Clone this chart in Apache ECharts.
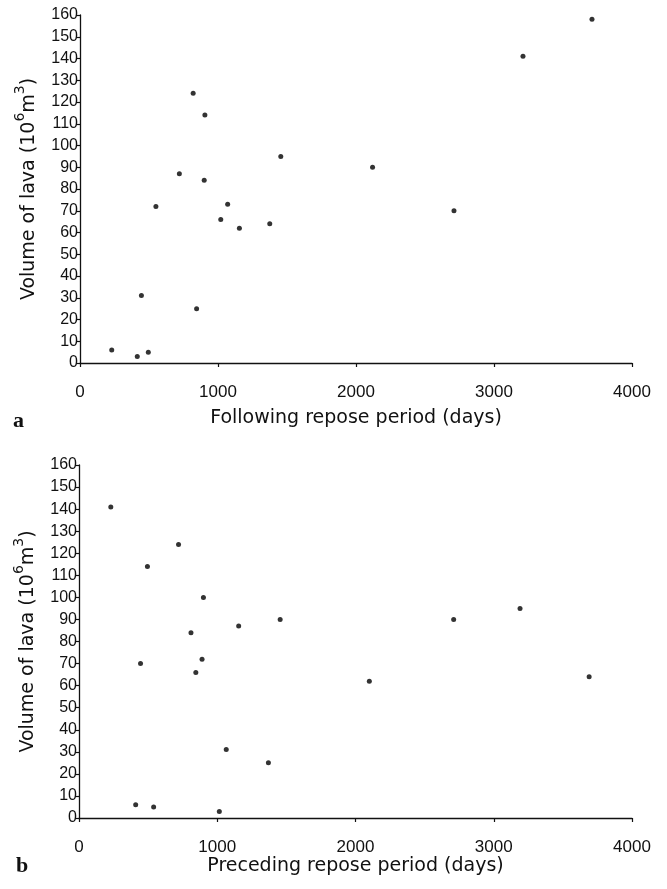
<!DOCTYPE html>
<html>
<head>
<meta charset="utf-8">
<script src="https://cdn.jsdelivr.net/npm/echarts@6/dist/echarts.min.js"></script>
<style>
  html, body { margin: 0; padding: 0; background: #fff; }
  #chart { width: 667px; height: 889px; }
</style>
</head>
<body>
<div id="chart"></div>
<script>
// Lava volume of each eruption against the repose period that follows it (a)
// and the repose period that precedes it (b).
const followingDays = [820, 905, 1455, 720, 900, 550, 1070, 1020, 1155, 1375,
                       445, 845, 230, 415, 495, 3710, 3210, 2120, 2710];
const followingVolume = [124, 114, 95, 87, 84, 72, 73, 66, 62, 64,
                         31, 25, 6, 3, 5, 158, 141, 90, 70];

const precedingDays = [230, 720, 495, 900, 1455, 1155, 810, 890, 445, 845,
                       1065, 1370, 410, 540, 1015, 3190, 2710, 2100, 3690];
const precedingVolume = [141, 124, 114, 100, 90, 87, 84, 72, 70, 66,
                         31, 25, 6, 5, 3, 95, 90, 62, 64];

const xTicks = { min: 0, max: 4000, interval: 1000 };
const yTicks = { min: 0, max: 160, interval: 10 };

const xTitleA = 'Following repose period (days)';
const xTitleB = 'Preceding repose period (days)';
const yTitle = '{n|Volume of lava (10}{s|6}{n|m}{s|3}{n|)}';

function pairs(xs, ys) { return xs.map((x, i) => [x, ys[i]]); }

const tickFont = 'Liberation Sans';
const titleFont = 'DejaVu Sans';

function xAxis(gridIndex, title, gap) {
  return {
    type: 'value', gridIndex, min: xTicks.min, max: xTicks.max, interval: xTicks.interval,
    name: title, nameLocation: 'middle', nameGap: gap,
    nameTextStyle: { fontFamily: titleFont, fontSize: 19, color: '#111' },
    axisLine: { show: true, lineStyle: { color: '#111', width: 1.3 } },
    axisTick: { show: true, inside: false, length: 4, lineStyle: { color: '#111', width: 1.2 } },
    axisLabel: { margin: 21, fontFamily: tickFont, fontSize: 17, color: '#111',
                 formatter: v => String(v) },
    splitLine: { show: false }
  };
}

function yAxis(gridIndex) {
  return {
    type: 'value', gridIndex, min: yTicks.min, max: yTicks.max, interval: yTicks.interval,
    name: yTitle, nameLocation: 'middle', nameRotate: 90, nameGap: 41,
    nameTextStyle: {
      fontFamily: titleFont, fontSize: 19, color: '#111',
      rich: {
        n: { fontFamily: titleFont, fontSize: 19, color: '#111', lineHeight: 26, verticalAlign: 'bottom' },
        s: { fontFamily: titleFont, fontSize: 14, color: '#111', lineHeight: 26, verticalAlign: 'top' }
      }
    },
    axisLine: { show: true, lineStyle: { color: '#111', width: 1.3 } },
    axisTick: { show: true, inside: false, length: 3, lineStyle: { color: '#111', width: 1.2 } },
    axisLabel: { margin: 2, fontFamily: tickFont, fontSize: 16, color: '#111',
                 formatter: v => String(v) },
    splitLine: { show: false }
  };
}

const chart = echarts.init(document.getElementById('chart'), null, { renderer: 'canvas' });
chart.setOption({
  backgroundColor: '#fff',
  animation: false,
  grid: [
    { left: 80, top: 15, width: 552, height: 348 },
    { left: 79, top: 465, width: 553, height: 353 }
  ],
  xAxis: [xAxis(0, xTitleA, 46), xAxis(1, xTitleB, 39)],
  yAxis: [yAxis(0), yAxis(1)],
  graphic: [
    { type: 'text', left: 13, top: 410, style: { text: 'a', fontFamily: 'Liberation Serif', fontWeight: 'bold', fontSize: 22, fill: '#111' } },
    { type: 'text', left: 16, top: 855, style: { text: 'b', fontFamily: 'Liberation Serif', fontWeight: 'bold', fontSize: 22, fill: '#111' } }
  ],
  series: [
    {
      type: 'scatter', xAxisIndex: 0, yAxisIndex: 0, symbolSize: 5,
      itemStyle: { color: '#000' }, data: pairs(followingDays, followingVolume)
    },
    {
      type: 'scatter', xAxisIndex: 1, yAxisIndex: 1, symbolSize: 5,
      itemStyle: { color: '#000' }, data: pairs(precedingDays, precedingVolume)
    }
  ]
});
</script>
</body>
</html>
